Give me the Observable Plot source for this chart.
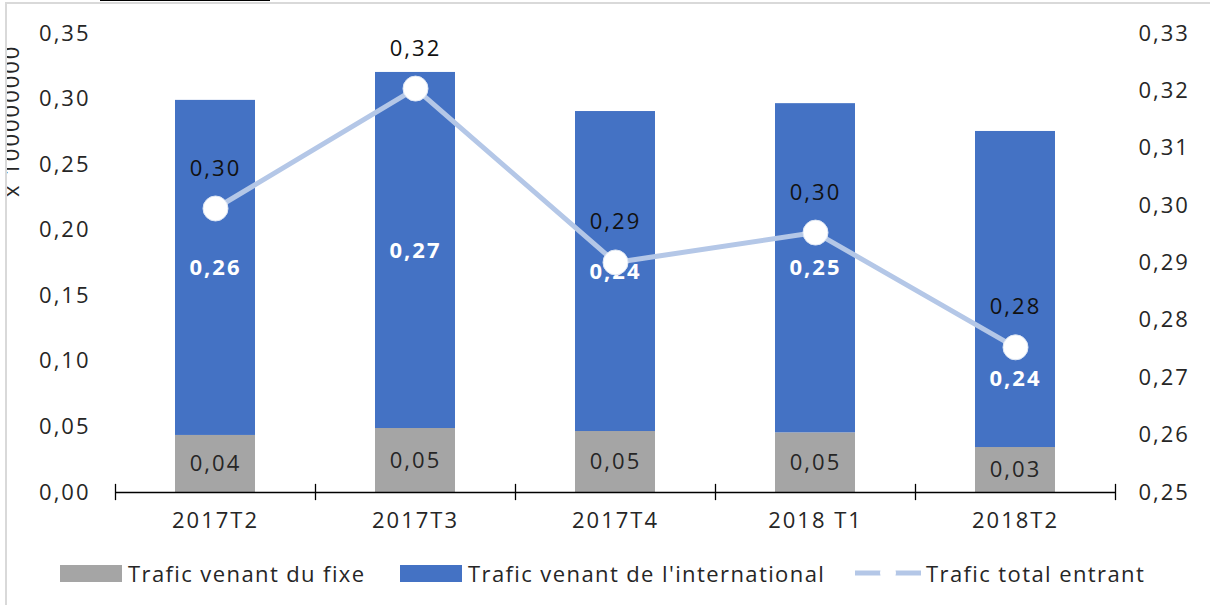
<!DOCTYPE html>
<html>
<head>
<meta charset="utf-8">
<script src="https://cdn.jsdelivr.net/npm/d3@7"></script>
<script src="https://cdn.jsdelivr.net/npm/@observablehq/plot@0.6"></script>
<style>
  html, body { margin: 0; padding: 0; background: #fff; }
  body { width: 1210px; height: 605px; position: relative; overflow: hidden; font-family: "Open Sans", "Noto Sans", sans-serif; color: #262626; }
  #chart { position: absolute; left: 0; top: 0; }
  .mask-left { position: absolute; left: 0; top: 0; width: 5px; height: 605px; background: #fff; }
  .frame-left { position: absolute; left: 5px; top: 2px; width: 2px; height: 603px; background: #d9d9d9; }
  .frame-top { position: absolute; left: 5px; top: 2px; width: 1205px; height: 2px; background: #d9d9d9; }
  .title-frag { position: absolute; left: 100px; top: 0; width: 170px; height: 1px; background: #000; }
  .legend { position: absolute; top: 559px; left: 0; width: 1210px; height: 28px; font-size: 22px; letter-spacing: 1.4px; }
  .item { position: absolute; top: 0; display: flex; align-items: center; height: 28px; white-space: nowrap; }
  .sw { width: 62px; height: 17px; margin-right: 6px; }
</style>
</head>
<body>
<div id="chart"></div>
<div class="mask-left"></div>
<div class="frame-left"></div>
<div class="frame-top"></div>
<div class="title-frag"></div>
<div class="legend" id="legend"></div>
<script>
// ---- data ----
const categories = ["2017T2", "2017T3", "2017T4", "2018 T1", "2018T2"];
const fixe = [0.0435, 0.0488, 0.0465, 0.0455, 0.0343];
const international = [0.2555, 0.2715, 0.2440, 0.2510, 0.2410];
const total = [0.2995, 0.3204, 0.2901, 0.2953, 0.2753];
const leftTicks = [0, 0.05, 0.10, 0.15, 0.20, 0.25, 0.30, 0.35];
const rightTicks = [0.25, 0.26, 0.27, 0.28, 0.29, 0.30, 0.31, 0.32, 0.33];
const seriesNames = ["Trafic venant du fixe", "Trafic venant de l'international", "Trafic total entrant"];
const axisTitle = "x 100000000";

// ---- helpers ----
const leftMax = 0.35, rMin = 0.25, rMax = 0.33;
const toLeft = v => (v - rMin) / (rMax - rMin) * leftMax;
const fromLeft = v => rMin + v / leftMax * (rMax - rMin);
const fmt = v => v.toFixed(2).replace(".", ",");

const rows = categories.map((c, i) => ({
  cat: c, i, fixe: fixe[i], intl: international[i], total: total[i]
}));
const boundaries = d3.range(categories.length + 1);
const last = categories.length - 1;

const blue = "#4472c4", gray = "#a5a5a5", lineCol = "#b4c7e7";

const chart = Plot.plot({
  width: 1210,
  height: 548,
  marginLeft: 115,
  marginRight: 95,
  marginTop: 33,
  marginBottom: 56,
  style: { fontFamily: "'Open Sans', 'Noto Sans', sans-serif", fontSize: "22px", letterSpacing: "2px", color: "#262626", background: "transparent", overflow: "visible" },
  x: { type: "linear", domain: [0, categories.length] },
  y: { domain: [0, leftMax] },
  marks: [
    Plot.rectY(rows, { x1: d => d.i + 0.3, x2: d => d.i + 0.7, y1: 0, y2: d => d.fixe, fill: gray }),
    Plot.rectY(rows, { x1: d => d.i + 0.3, x2: d => d.i + 0.7, y1: d => d.fixe, y2: d => d.fixe + d.intl, fill: blue }),
    Plot.ruleY([0], { x1: 0, x2: categories.length, stroke: "#000", strokeWidth: 1.3 }),
    Plot.ruleX(boundaries, { x: d => d, y1: -0.0062, y2: 0.0062, stroke: "#000", strokeWidth: 1.3 }),
    Plot.axisY(leftTicks, { anchor: "left", tickSize: 0, tickPadding: 25, tickFormat: fmt, fontSize: 22, label: null }),
    Plot.axisY(rightTicks.map(toLeft), { anchor: "right", tickSize: 0, tickPadding: 23, tickFormat: d => fmt(fromLeft(d)), fontSize: 22, label: null }),
    Plot.axisX(rows.map(d => d.i + 0.5), { anchor: "bottom", tickSize: 0, tickPadding: 20, tickFormat: (d, k) => categories[k], fontSize: 22, label: null }),
    Plot.text(rows, { x: d => d.i + 0.5, y: d => d.fixe / 2, text: d => fmt(d.fixe), fill: "#262626", fontSize: 22 }),
    Plot.text(rows.filter(d => d.i !== last), { x: d => d.i + 0.5, y: d => d.fixe + d.intl / 2, text: d => fmt(d.intl), fill: "#fff", fontWeight: "bold", fontSize: 22, letterSpacing: "1px" }),
    Plot.line(rows, { x: d => d.i + 0.5, y: d => toLeft(d.total), stroke: lineCol, strokeWidth: 5 }),
    Plot.dot(rows, { x: d => d.i + 0.5, y: d => toLeft(d.total), r: 12.5, fill: "#fff", stroke: "#dde6f4", strokeWidth: 1 }),
    // last international label moved below the marker, as in the reference
    Plot.text(rows.filter(d => d.i === last), { x: d => d.i + 0.5, y: d => toLeft(d.total), dy: 32, text: d => fmt(d.intl), fill: "#fff", fontWeight: "bold", fontSize: 22, letterSpacing: "1px" }),
    Plot.text(rows, { x: d => d.i + 0.5, y: d => toLeft(d.total), dy: -40, text: d => fmt(d.total), fill: "#111", fontSize: 22 })
  ]
});

// rotated axis title (partly clipped by the frame, as in the reference)
d3.select(chart).append("text")
  .attr("transform", "translate(19,197) rotate(-90)")
  .attr("text-anchor", "start")
  .attr("font-size", 22)
  .attr("fill", "#262626")
  .text(axisTitle);

document.getElementById("chart").appendChild(chart);

// legend
const legend = d3.select("#legend");
const it1 = legend.append("div").attr("class", "item").style("left", "60px");
it1.append("div").attr("class", "sw").style("background", gray);
it1.append("span").text(seriesNames[0]);
const it2 = legend.append("div").attr("class", "item").style("left", "400px");
it2.append("div").attr("class", "sw").style("background", blue);
it2.append("span").text(seriesNames[1]);
const it3 = legend.append("div").attr("class", "item").style("left", "855px");
const sv = it3.append("svg").attr("width", 66).attr("height", 20).style("margin-right", "5px");
sv.append("line").attr("x1", 0).attr("x2", 66).attr("y1", 10).attr("y2", 10).attr("stroke", lineCol).attr("stroke-width", 5);
sv.append("circle").attr("cx", 33).attr("cy", 10).attr("r", 8).attr("fill", "#fff");
it3.append("span").text(seriesNames[2]);
</script>
</body>
</html>
